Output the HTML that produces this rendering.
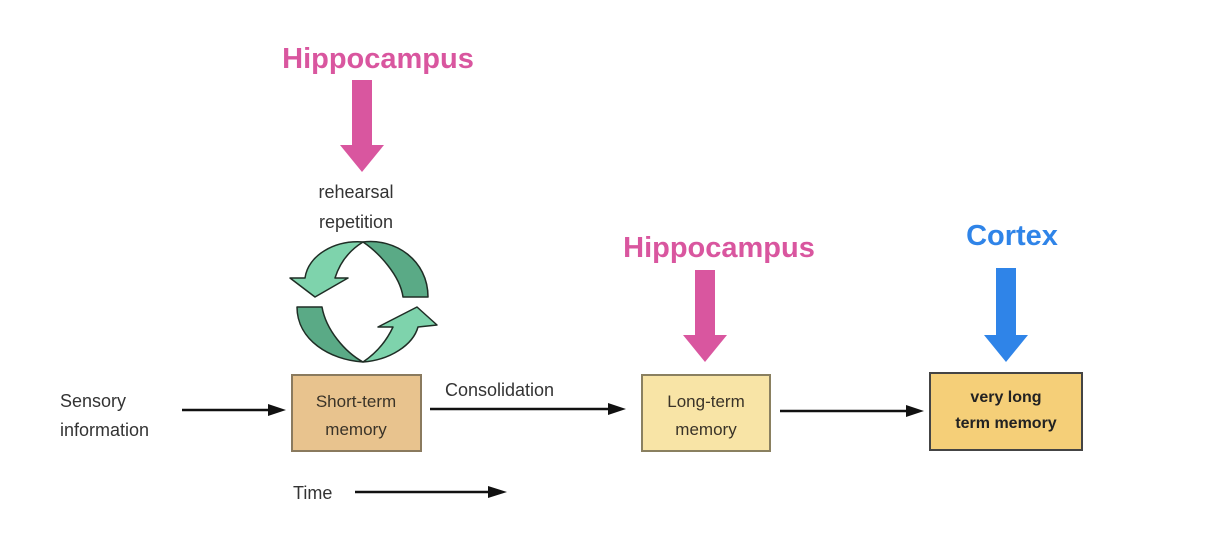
<!DOCTYPE html>
<html><head><style>body{margin:0;background:#fff}svg{display:block}</style></head><body>
<svg width="1220" height="556" xmlns="http://www.w3.org/2000/svg" font-family="Liberation Sans, sans-serif">
<rect width="1220" height="556" fill="#fff"/>
<text x="378" y="68" font-size="29" font-weight="bold" fill="#d9569f" text-anchor="middle">Hippocampus</text>
<rect x="352" y="80" width="20" height="66" fill="#d9569f"/>
<polygon points="340,145 384,145 362,172" fill="#d9569f"/>
<text x="356" y="198" font-size="18" fill="#333" text-anchor="middle">rehearsal</text>
<text x="356" y="228" font-size="18" fill="#333" text-anchor="middle">repetition</text>
<g stroke="#1f2d25" stroke-width="1.5" stroke-linejoin="round">
<path d="M363,242 C395,238 428,260 428,297 L403,297 C400,275 378,252 363,242 Z" fill="#5aaa86"/>
<path d="M363,242 C335,240 308,255 305,278 L290,278 L315,297 L348,278 L335,278 C340,262 350,250 363,242 Z" fill="#7ed3ac"/>
<path d="M363,362 C330,360 297,340 297,307 L322,307 C326,330 345,352 363,362 Z" fill="#5aaa86"/>
<path d="M363,362 C390,360 413,345 418,327 L437,325 L417,307 L378,327 L393,327 C386,342 375,354 363,362 Z" fill="#7ed3ac"/>
</g>
<rect x="292" y="375" width="129" height="76" fill="#e8c38e" stroke="#8a7a5e" stroke-width="2"/>
<text x="356" y="407" font-size="17" fill="#3a3328" text-anchor="middle">Short-term</text>
<text x="356" y="435" font-size="17" fill="#3a3328" text-anchor="middle">memory</text>
<text x="60" y="407" font-size="18" fill="#333">Sensory</text>
<text x="60" y="436" font-size="18" fill="#333">information</text>
<line x1="182" y1="410" x2="272" y2="410" stroke="#111" stroke-width="2.5"/>
<polygon points="268,404 286,410 268,416" fill="#111"/>
<text x="445" y="396" font-size="18" fill="#333">Consolidation</text>
<line x1="430" y1="409" x2="612" y2="409" stroke="#111" stroke-width="2.5"/>
<polygon points="608,403 626,409 608,415" fill="#111"/>
<rect x="642" y="375" width="128" height="76" fill="#f8e4a6" stroke="#8a8060" stroke-width="2"/>
<text x="706" y="407" font-size="17" fill="#3a3328" text-anchor="middle">Long-term</text>
<text x="706" y="435" font-size="17" fill="#3a3328" text-anchor="middle">memory</text>
<text x="719" y="257" font-size="29" font-weight="bold" fill="#d9569f" text-anchor="middle">Hippocampus</text>
<rect x="695" y="270" width="20" height="66" fill="#d9569f"/>
<polygon points="683,335 727,335 705,362" fill="#d9569f"/>
<line x1="780" y1="411" x2="910" y2="411" stroke="#111" stroke-width="2.5"/>
<polygon points="906,405 924,411 906,417" fill="#111"/>
<rect x="930" y="373" width="152" height="77" fill="#f5cf78" stroke="#444" stroke-width="2"/>
<text x="1006" y="402" font-size="16" font-weight="bold" fill="#222" text-anchor="middle">very long</text>
<text x="1006" y="428" font-size="16" font-weight="bold" fill="#222" text-anchor="middle">term memory</text>
<text x="1012" y="245" font-size="29" font-weight="bold" fill="#2f84e8" text-anchor="middle">Cortex</text>
<rect x="996" y="268" width="20" height="68" fill="#2f84e8"/>
<polygon points="984,335 1028,335 1006,362" fill="#2f84e8"/>
<text x="293" y="499" font-size="18" fill="#333">Time</text>
<line x1="355" y1="492" x2="492" y2="492" stroke="#111" stroke-width="2.5"/>
<polygon points="488,486 507,492 488,498" fill="#111"/>
</svg>
</body></html>
